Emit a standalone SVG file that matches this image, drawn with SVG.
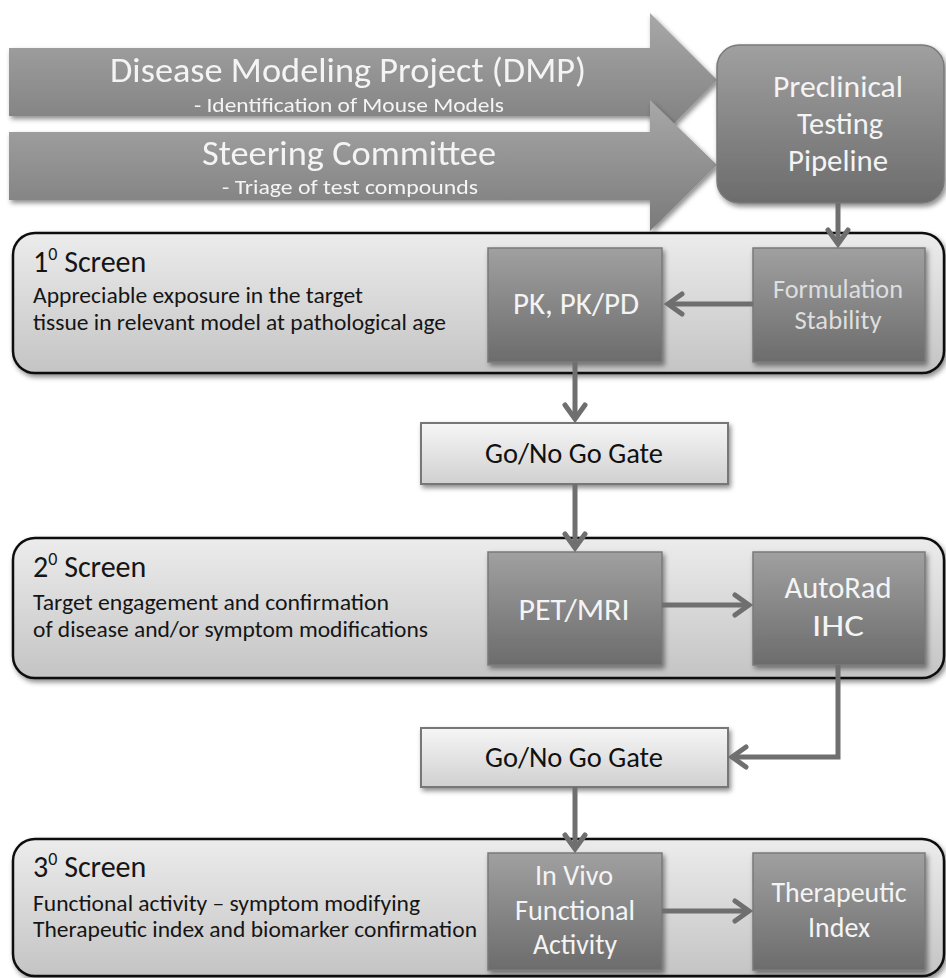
<svg xmlns="http://www.w3.org/2000/svg" width="946" height="978" viewBox="0 0 946 978">
<defs>
<linearGradient id="gArrow" x1="0" y1="0" x2="0" y2="1"><stop offset="0" stop-color="#a8a8a8"/><stop offset="1" stop-color="#7a7a7a"/></linearGradient>
<linearGradient id="gDark" x1="0" y1="0" x2="0" y2="1"><stop offset="0" stop-color="#a0a0a0"/><stop offset="1" stop-color="#6c6c6c"/></linearGradient>
<linearGradient id="gPanel" x1="0" y1="0" x2="0" y2="1"><stop offset="0" stop-color="#ececec"/><stop offset="1" stop-color="#c4c4c4"/></linearGradient>
<linearGradient id="gGate" x1="0" y1="0" x2="0" y2="1"><stop offset="0" stop-color="#f6f6f6"/><stop offset="1" stop-color="#d0d0d0"/></linearGradient>
<filter id="sh" x="-10%" y="-10%" width="120%" height="130%"><feDropShadow dx="2" dy="3" stdDeviation="2.5" flood-color="#000" flood-opacity="0.45"/></filter>
<marker id="ah" markerWidth="8" markerHeight="8" refX="6" refY="4" orient="auto" markerUnits="userSpaceOnUse" viewBox="0 0 8 8" overflow="visible">
<path d="M-8,-6 L6,4 L-8,14" fill="none" stroke="#6f6f6f" stroke-width="5" stroke-linecap="round" stroke-linejoin="miter"/>
</marker>
<style>
text{font-family:"Carlito","Liberation Sans Narrow","Liberation Sans",sans-serif;}
.w{fill:#f4f4f4;text-anchor:middle;}
.lw{fill:#dedede;text-anchor:middle;}
.k{fill:#151515;}
.kc{fill:#111;text-anchor:middle;}
.box{fill:url(#gDark);stroke:#7a7a7a;stroke-width:1.5;filter:url(#sh);}
.panel{fill:url(#gPanel);stroke:#111;stroke-width:2.5;filter:url(#sh);}
.gate{fill:url(#gGate);stroke:#777;stroke-width:2;filter:url(#sh);}
.conn{fill:none;stroke:#6f6f6f;stroke-width:5;}
</style>
</defs>
<rect width="946" height="978" fill="#fff"/>

<g id="arrow-dmp" filter="url(#sh)">
<path d="M9,48 H650 V13 L717,80 L650,148 V116 H9 Z" fill="url(#gArrow)"/>
<text class="w" x="348" y="82" font-size="34" textLength="476" lengthAdjust="spacingAndGlyphs">Disease Modeling Project (DMP)</text>
<text class="w" x="349" y="112" font-size="21" textLength="310" lengthAdjust="spacingAndGlyphs">- Identification of Mouse Models</text>
</g>
<g id="arrow-steering" filter="url(#sh)">
<path d="M9,132 H650 V100 L717,165 L650,231 V200 H9 Z" fill="url(#gArrow)"/>
<text class="w" x="349" y="165" font-size="34" textLength="294" lengthAdjust="spacingAndGlyphs">Steering Committee</text>
<text class="w" x="350" y="194" font-size="21" textLength="256" lengthAdjust="spacingAndGlyphs">- Triage of test compounds</text>
</g>
<g id="pipeline">
<rect x="717" y="45" width="227" height="158" rx="22" class="box"/>
<text class="w" x="838" y="97" font-size="30" textLength="130" lengthAdjust="spacingAndGlyphs">Preclinical</text>
<text class="w" x="840" y="134" font-size="30" textLength="86" lengthAdjust="spacingAndGlyphs">Testing</text>
<text class="w" x="838" y="171" font-size="30" textLength="100" lengthAdjust="spacingAndGlyphs">Pipeline</text>
</g>

<g id="screen1">
<rect x="13" y="233" width="931" height="140" rx="22" class="panel"/>
<text class="k" x="33" y="272" font-size="30">1<tspan font-size="18" dy="-12">0</tspan><tspan dy="12"> Screen</tspan></text>
<text class="k" x="33" y="303" font-size="22" textLength="330" lengthAdjust="spacingAndGlyphs">Appreciable exposure in the target</text>
<text class="k" x="33" y="330" font-size="22" textLength="413" lengthAdjust="spacingAndGlyphs">tissue in relevant model at pathological age</text>
</g>
<g id="pkpd">
<rect x="488" y="248" width="174" height="114" class="box"/>
<text class="w" x="576" y="314" font-size="30" textLength="126" lengthAdjust="spacingAndGlyphs">PK, PK/PD</text>
</g>
<g id="formulation">
<rect x="753" y="248" width="172" height="114" class="box"/>
<text class="lw" x="838" y="298" font-size="26" textLength="130" lengthAdjust="spacingAndGlyphs">Formulation</text>
<text class="lw" x="838" y="329" font-size="26" textLength="87" lengthAdjust="spacingAndGlyphs">Stability</text>
</g>

<g id="gate1">
<rect x="421" y="423" width="307" height="61" class="gate"/>
<text class="kc" x="574" y="463" font-size="28" textLength="178" lengthAdjust="spacingAndGlyphs">Go/No Go Gate</text>
</g>

<g id="screen2">
<rect x="13" y="538" width="931" height="140" rx="22" class="panel"/>
<text class="k" x="33" y="577" font-size="30">2<tspan font-size="18" dy="-12">0</tspan><tspan dy="12"> Screen</tspan></text>
<text class="k" x="33" y="610" font-size="22" textLength="356" lengthAdjust="spacingAndGlyphs">Target engagement and confirmation</text>
<text class="k" x="33" y="637" font-size="22" textLength="395" lengthAdjust="spacingAndGlyphs">of disease and/or symptom modifications</text>
</g>
<g id="petmri">
<rect x="488" y="552" width="174" height="113" class="box"/>
<text class="w" x="574" y="620" font-size="30" textLength="111" lengthAdjust="spacingAndGlyphs">PET/MRI</text>
</g>
<g id="autorad">
<rect x="753" y="552" width="172" height="113" class="box"/>
<text class="w" x="838" y="598" font-size="30" textLength="107" lengthAdjust="spacingAndGlyphs">AutoRad</text>
<text class="w" x="838" y="636" font-size="30" textLength="52" lengthAdjust="spacingAndGlyphs">IHC</text>
</g>

<g id="gate2">
<rect x="421" y="728" width="307" height="59" class="gate"/>
<text class="kc" x="574" y="767" font-size="28" textLength="178" lengthAdjust="spacingAndGlyphs">Go/No Go Gate</text>
</g>

<g id="screen3">
<rect x="13" y="839" width="931" height="137" rx="22" class="panel"/>
<text class="k" x="33" y="877" font-size="30">3<tspan font-size="18" dy="-12">0</tspan><tspan dy="12"> Screen</tspan></text>
<text class="k" x="33" y="911" font-size="22" textLength="387" lengthAdjust="spacingAndGlyphs">Functional activity – symptom modifying</text>
<text class="k" x="33" y="937" font-size="22" textLength="444" lengthAdjust="spacingAndGlyphs">Therapeutic index and biomarker confirmation</text>
</g>
<g id="invivo">
<rect x="488" y="853" width="174" height="117" class="box"/>
<text class="w" x="574" y="885" font-size="29" textLength="78" lengthAdjust="spacingAndGlyphs">In Vivo</text>
<text class="w" x="575" y="920" font-size="29" textLength="120" lengthAdjust="spacingAndGlyphs">Functional</text>
<text class="w" x="575" y="954" font-size="29" textLength="84" lengthAdjust="spacingAndGlyphs">Activity</text>
</g>
<g id="therapeutic">
<rect x="753" y="853" width="172" height="117" class="box"/>
<text class="w" x="839" y="902" font-size="29" textLength="135" lengthAdjust="spacingAndGlyphs">Therapeutic</text>
<text class="w" x="839" y="937" font-size="29" textLength="62" lengthAdjust="spacingAndGlyphs">Index</text>
</g>

<g id="connectors">
<path class="conn" d="M838,203 V244" marker-end="url(#ah)"/>
<path class="conn" d="M753,304 H668" marker-end="url(#ah)"/>
<path class="conn" d="M575,362 V419" marker-end="url(#ah)"/>
<path class="conn" d="M575,484 V548" marker-end="url(#ah)"/>
<path class="conn" d="M662,605 H749" marker-end="url(#ah)"/>
<path class="conn" d="M838,665 V757 H732" marker-end="url(#ah)"/>
<path class="conn" d="M575,787 V849" marker-end="url(#ah)"/>
<path class="conn" d="M662,911 H749" marker-end="url(#ah)"/>
</g>
</svg>
